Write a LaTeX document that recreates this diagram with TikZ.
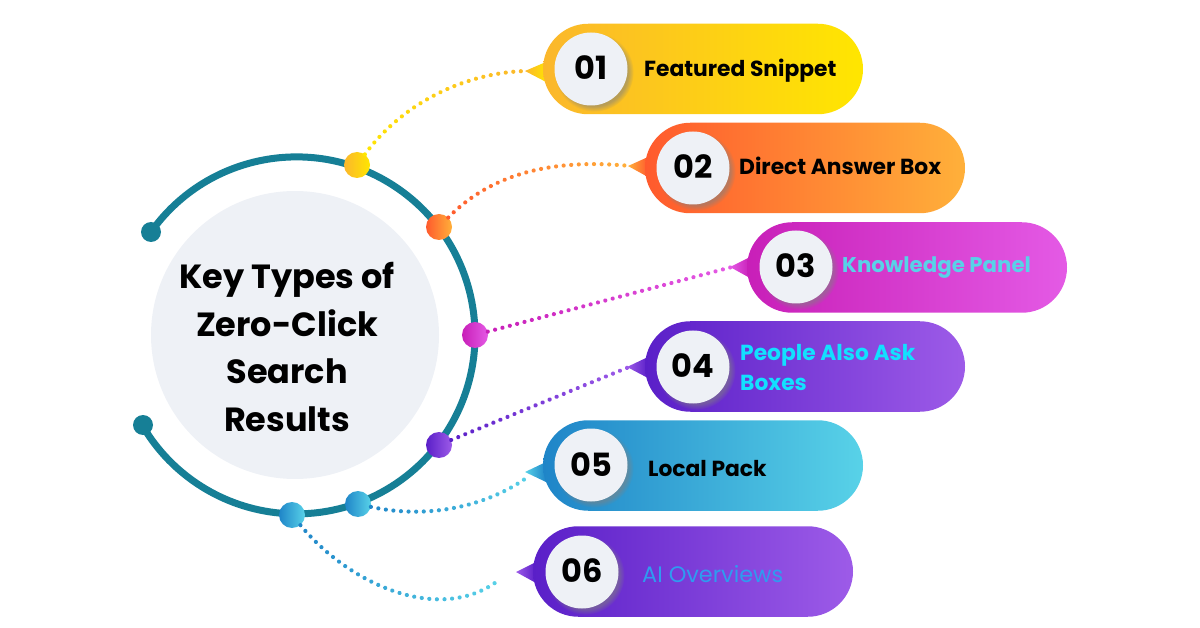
\documentclass[tikz,border=0pt]{standalone}
\usepackage{fontspec}
\setmainfont{Poppins}
\usetikzlibrary{calc,shapes.misc,shadows,decorations.markings}

\definecolor{ringteal}{HTML}{167F96}
\definecolor{discgrey}{HTML}{EEF1F6}
\definecolor{yellowa}{HTML}{FBB72C}
\definecolor{yellowb}{HTML}{FFE600}
\definecolor{orangea}{HTML}{FF5A2D}
\definecolor{orangeb}{HTML}{FFB03A}
\definecolor{pinka}{HTML}{C81FB8}
\definecolor{pinkb}{HTML}{E45AE5}
\definecolor{purplea}{HTML}{5A1FC8}
\definecolor{purpleb}{HTML}{9D5BE8}
\definecolor{bluea}{HTML}{1F85C8}
\definecolor{blueb}{HTML}{58D2E8}
\definecolor{labelcyan}{HTML}{12E0FF}
\definecolor{labelblue}{HTML}{2F9BF0}

\tikzset{
  pill/.style 2 args={rounded rectangle,minimum width=320pt,minimum height=90.5pt,inner sep=0pt,left color=#1,right color=#2},
  linkdot/.style 2 args={circle,minimum size=26pt,inner sep=0pt,left color=#1,right color=#2},
  ringdot/.style={circle,minimum size=20pt,inner sep=0pt,fill=ringteal},
  numdisc/.style={circle,minimum size=73pt,inner sep=0pt,fill=discgrey,circular drop shadow={shadow xshift=3pt,shadow yshift=-3pt,shadow scale=1.08,opacity=.55}},
  numtext/.style={anchor=base,inner sep=0pt,font=\fontsize{32}{32}\selectfont\bfseries},
  itemtext/.style={anchor=base west,inner sep=0pt,font=\fontsize{21.8}{21.8}\selectfont\bfseries},
  dotlink/.style 2 args={decorate,decoration={markings,mark=between positions 0 and 1 step 7.6pt with {
    \pgfmathsetmacro\dotmix{(\pgfkeysvalueof{/pgf/decoration/mark info/distance from start}/\pgfdecoratedpathlength)*100}
    \fill[#2!\dotmix!#1] (0,0) circle (2.1pt);}}}
}

\begin{document}
\begin{tikzpicture}[x=1pt,y=-1pt]
 \useasboundingbox (0,0) rectangle (1200,628);

 \node[circle,minimum size=288pt,inner sep=0pt,fill=discgrey] (hub) at (295,335) {};
 \node[align=center,inner sep=0pt,font=\fontsize{33.5}{47.7}\selectfont\bfseries] (title) at (287,347) {Key Types of\\Zero-Click\\Search\\Results};

 \node[ringdot] (ringa) at (151,232) {};
 \node[ringdot] (ringb) at (143,425) {};
 \draw[ringteal,line width=7pt] (ringa.center) arc[start angle=144.6,end angle=-149.3,radius=178.5pt];

 \shade[left color=yellowa,right color=yellowb] (525,71) -- (546,62) -- (548,83) -- cycle;
 \shade[left color=orangeb,right color=orangea] (628,166) -- (648,157) -- (648,177) -- cycle;
 \shade[left color=pinkb,right color=pinka] (730,267) -- (750,257) -- (750,278) -- cycle;
 \shade[left color=purpleb,right color=purplea] (627,367) -- (648,357) -- (648,378) -- cycle;
 \shade[left color=blueb,right color=bluea] (525,472) -- (546,462) -- (546,482) -- cycle;
 \shade[left color=purpleb,right color=purplea] (516,572) -- (536,562) -- (536,583) -- cycle;

 \node[pill={yellowa}{yellowb}] (pill1) at (703,69) {};
 \node[pill={orangea}{orangeb}] (pill2) at (805,168) {};
 \node[pill={pinka}{pinkb}] (pill3) at (907,267.5) {};
 \node[pill={purplea}{purpleb}] (pill4) at (805,366.5) {};
 \node[pill={bluea}{blueb}] (pill5) at (703,465.5) {};
 \node[pill={purplea}{purpleb}] (pill6) at (693,571.5) {};

 \node[numdisc] (disc1) at (591,69) {};
 \node[numdisc] (disc2) at (693,168) {};
 \node[numdisc] (disc3) at (796,267) {};
 \node[numdisc] (disc4) at (693,367) {};
 \node[numdisc] (disc5) at (591,465) {};
 \node[numdisc] (disc6) at (582,572) {};

 \node[numtext] (num1) at (591,79.5) {01};
 \node[numtext] (num2) at (693,178.5) {02};
 \node[numtext] (num3) at (796,277.5) {03};
 \node[numtext] (num4) at (693,377.5) {04};
 \node[numtext] (num5) at (591,476) {05};
 \node[numtext] (num6) at (582,582) {06};

 \node[itemtext] (label1) at (644,76.5) {Featured Snippet};
 \node[itemtext] (label2) at (739,175) {Direct Answer Box};
 \node[itemtext,font=\fontsize{21.3}{21.3}\selectfont\bfseries,text=blueb] (label3) at (842,273) {Knowledge Panel};
 \node[itemtext,text=labelcyan] (label4a) at (740,360) {People Also Ask};
 \node[itemtext,text=labelcyan] (label4b) at (740,391) {Boxes};
 \node[itemtext] (label5) at (648,476.5) {Local Pack};
 \node[itemtext,font=\fontsize{22.4}{22.4}\selectfont,text=labelblue] (label6) at (642,582.5) {AI Overviews};

 \node[linkdot={yellowa}{yellowb}] (dot1) at (357,165) {};
 \node[linkdot={orangea}{orangeb}] (dot2) at (439,227) {};
 \node[linkdot={pinka}{pinkb}] (dot3) at (475,335) {};
 \node[linkdot={purplea}{purpleb}] (dot4) at (439,445) {};
 \node[linkdot={bluea}{blueb}] (dot5) at (358,504) {};
 \node[linkdot={bluea}{blueb}] (dot6) at (292,515) {};

 \coordinate (tip1) at (527,71);
 \coordinate (tip2) at (630,166);
 \coordinate (tip3) at (732,267);
 \coordinate (tip4) at (629,367);
 \coordinate (tip5) at (529,476);
 \coordinate (tip6) at (499,580);

 \draw[dotlink={yellowb}{yellowa}] (dot1) .. controls (405,100) and (470,72) .. (tip1);
 \draw[dotlink={orangea}{orangeb}] (dot2) .. controls (490,175) and (550,158) .. (tip2);
 \draw[dotlink={pinka}{pinkb}] (dot3) -- (tip3);
 \draw[dotlink={purplea}{purpleb}] (dot4) -- (tip4);
 \draw[dotlink={bluea}{blueb}] (dot5) .. controls (430,520) and (490,505) .. (tip5);
 \draw[dotlink={bluea}{blueb}] (dot6) .. controls (350,585) and (440,625) .. (tip6);
\end{tikzpicture}
\end{document}
